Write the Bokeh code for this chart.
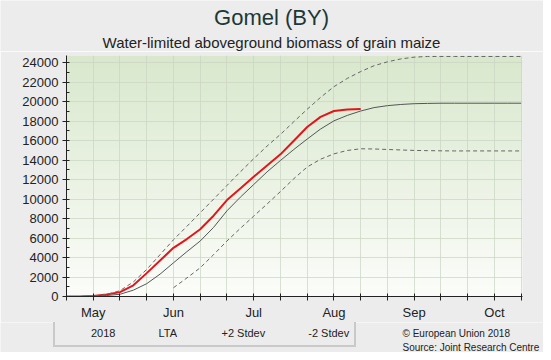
import numpy as np
from bokeh.plotting import figure
from bokeh.layouts import column
from bokeh.models import (Range1d, FixedTicker, Label, Legend, LegendItem)
from bokeh.embed import file_html
from bokeh.resources import INLINE

# ---- data (x = dekad index; 0 = 3rd dekad of April) ----
month_ticks = {1: "May", 4: "Jun", 7: "Jul", 10: "Aug", 13: "Sep", 16: "Oct"}

x_2018 = [0, 0.5, 1, 1.5, 2, 2.5, 3, 3.5, 4, 4.5, 5, 5.5, 6, 6.5, 7, 7.5, 8, 8.5,
          9, 9.5, 10, 10.5, 11]
y_2018 = [0, 0, 50, 200, 450, 1150, 2400, 3700, 5000, 5900, 6900, 8300, 9900,
          11100, 12300, 13450, 14600, 16000, 17400, 18450, 19050, 19200, 19250]

x_lta = [0, 0.5, 1, 1.5, 2, 2.5, 3, 3.5, 4, 4.5, 5, 5.5, 6, 6.5, 7, 7.5, 8, 8.5,
         9, 9.5, 10, 10.5, 11, 11.5, 12, 12.5, 13, 13.5, 14, 14.5, 15, 15.5, 16,
         16.5, 17]
y_lta = [0, 0, 30, 100, 230, 650, 1320, 2300, 3460, 4600, 5700, 7100, 8800,
         10200, 11500, 12800, 13970, 15100, 16170, 17200, 18040, 18600, 19050,
         19400, 19600, 19720, 19800, 19830, 19850, 19850, 19850, 19850, 19850,
         19850, 19850]

y_plus2 = [0, 0, 50, 200, 600, 1500, 2780, 4300, 5830, 7200, 8600, 10000, 11400,
           12800, 14150, 15450, 16650, 17950, 19230, 20450, 21550, 22400, 23100,
           23700, 24100, 24400, 24580, 24650, 24650, 24650, 24650, 24650, 24650,
           24650, 24650]

x_minus2 = [4, 4.5, 5, 5.5, 6, 6.5, 7, 7.5, 8, 8.5, 9, 9.5, 10, 10.5, 11, 11.5,
            12, 12.5, 13, 13.5, 14, 14.5, 15, 15.5, 16, 16.5, 17]
y_minus2 = [900, 1900, 2950, 4300, 5700, 7000, 8250, 9500, 10780, 12100, 13300,
            14100, 14650, 15000, 15170, 15150, 15100, 15050, 15000, 14980, 14960,
            14950, 14950, 14950, 14950, 14950, 14950]

series_names = ["2018", "LTA", "+2 Stdev", "-2 Stdev"]
title_text = "Gomel (BY)"
subtitle_text = "Water-limited aboveground biomass of grain maize"
y_label = "kg/ha"
credit_1 = "© European Union 2018"
credit_2 = "Source: Joint Research Centre"

X_END = 17.05
Y_END = 24750
y_major = list(range(0, 24001, 2000))
y_minor = list(range(1000, 24001, 2000))

FONT = "Liberation Sans"
BG = "#ececec"
W = 543

STYLES = [dict(line_color="#e3151b", line_width=2),
          dict(line_color="#555555", line_width=1),
          dict(line_color="#666666", line_width=1, line_dash="4 3"),
          dict(line_color="#666666", line_width=1, line_dash="4 3")]


def bare_figure(h):
    f = figure(width=W, height=h, output_backend="svg", toolbar_location=None,
               x_range=Range1d(0, 1), y_range=Range1d(0, 1),
               x_axis_type=None, y_axis_type=None,
               min_border=0, min_border_left=0, min_border_right=0,
               min_border_top=0, min_border_bottom=0)
    f.background_fill_color = BG
    f.border_fill_color = BG
    f.outline_line_color = None
    f.xgrid.visible = False
    f.ygrid.visible = False
    try:
        f.frame_align = False
    except Exception:
        pass
    return f


# ---- header ----
head = bare_figure(51)
head.add_layout(Label(x=271, y=34, x_units="screen", y_units="screen",
                      text=title_text, text_font=FONT, text_font_size="22px",
                      text_color="#1c3838", text_align="center",
                      text_baseline="middle"))
head.add_layout(Label(x=271, y=9, x_units="screen", y_units="screen",
                      text=subtitle_text, text_font=FONT, text_font_size="15px",
                      text_color="#222222", text_align="center",
                      text_baseline="middle"))

# ---- main chart ----
p = figure(width=W, height=271, output_backend="svg", toolbar_location=None,
           x_range=Range1d(0, X_END), y_range=Range1d(0, Y_END),
           min_border_left=66, min_border_right=21, min_border_top=4,
           min_border_bottom=23)
p.background_fill_color = BG
p.border_fill_color = BG
p.outline_line_color = None

n = 256
img = np.zeros((n, 1), dtype=np.uint32)
view = img.view(dtype=np.uint8).reshape((n, 1, 4))
top = np.array([217, 232, 205])
bot = np.array([252, 253, 250])
for r in range(n):
    t = r / (n - 1)
    c = bot + (top - bot) * t
    view[r, 0, 0:3] = c.astype(np.uint8)
    view[r, 0, 3] = 255
bg = p.image_rgba(image=[img], x=0, y=0, dw=X_END, dh=Y_END)
bg.level = "image"

p.xgrid.ticker = FixedTicker(ticks=list(range(0, 18)))
p.ygrid.ticker = FixedTicker(ticks=y_major)
for g in (p.xgrid, p.ygrid):
    g.grid_line_color = "#c9d4c2"
    g.grid_line_alpha = 0.7
    g.grid_line_width = 1

p.xaxis.ticker = FixedTicker(ticks=list(range(0, 18)))
p.xaxis.major_label_overrides = {i: month_ticks.get(i, "") for i in range(0, 18)}
p.yaxis.ticker = FixedTicker(ticks=y_major, minor_ticks=y_minor)
for ax in (p.xaxis[0], p.yaxis[0]):
    ax.axis_line_color = "#222222"
    ax.major_tick_line_color = "#222222"
    ax.minor_tick_line_color = "#222222"
    ax.major_tick_in = 3
    ax.major_tick_out = 4
    ax.major_label_text_font = FONT
    ax.major_label_text_font_size = "13px"
    ax.major_label_text_color = "#222222"
p.xaxis.minor_tick_line_color = None
p.yaxis.minor_tick_in = 3
p.yaxis.minor_tick_out = 0
p.yaxis.major_label_standoff = 4
p.xaxis.major_label_standoff = 4

p.line(x_2018, y_2018, **STYLES[0])
p.line(x_lta, y_lta, **STYLES[1])
p.line(x_lta, y_plus2, **STYLES[2])
p.line(x_minus2, y_minus2, **STYLES[3])

p.add_layout(Label(x=-52, y=122, x_units="screen", y_units="screen",
                   text=y_label, text_font=FONT, text_font_size="12px",
                   text_color="#2a4848", angle=np.pi / 2, text_align="center",
                   text_baseline="middle"))

# ---- footer: legend + credits ----
foot = bare_figure(30)
items = []
for name, st in zip(series_names, STYLES):
    r = foot.line([], [], **st)
    items.append(LegendItem(label=name, renderers=[r]))
legend = Legend(items=items, orientation="horizontal", location=(53, 5))
legend.label_text_font = FONT
legend.label_text_font_size = "11px"
legend.label_text_color = "#222222"
legend.glyph_width = 24
legend.glyph_height = 14
legend.label_standoff = 7
legend.spacing = 12
legend.padding = 5
legend.margin = 0
legend.border_line_color = "#a6a6a6"
legend.border_line_width = 2
legend.background_fill_color = BG
legend.background_fill_alpha = 1
foot.add_layout(legend)
foot.add_layout(Label(x=402, y=19, x_units="screen", y_units="screen",
                      text=credit_1, text_font=FONT, text_font_size="10px",
                      text_color="#222222", text_baseline="middle"))
foot.add_layout(Label(x=402, y=5, x_units="screen", y_units="screen",
                      text=credit_2, text_font=FONT, text_font_size="10px",
                      text_color="#222222", text_baseline="middle"))

layout = column(head, p, foot, spacing=0)
open("out.html", "w").write(file_html(layout, INLINE))
